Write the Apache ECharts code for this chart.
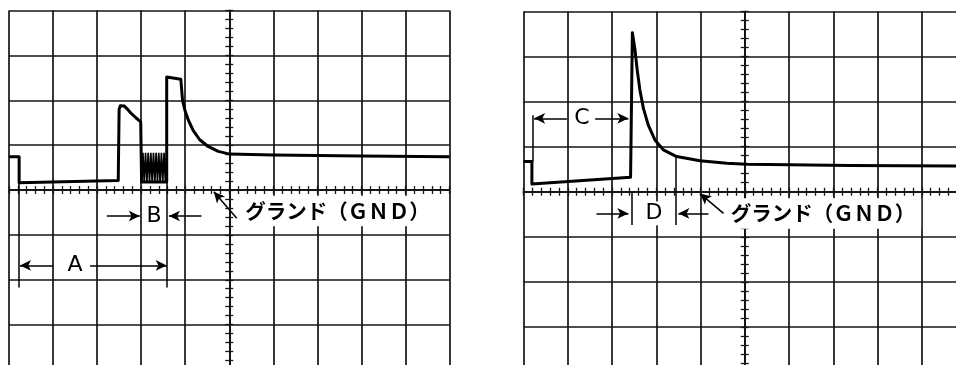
<!DOCTYPE html>
<html>
<head>
<meta charset="utf-8">
<script src="https://cdn.jsdelivr.net/npm/echarts@6/dist/echarts.min.js"></script>
<style>
  html, body { margin: 0; padding: 0; background: #fff; }
  #wrap { position: relative; width: 956px; height: 365px; overflow: hidden; }
  #left { position: absolute; left: 0; top: 0; width: 478px; height: 365px; }
  #right { position: absolute; left: 478px; top: 0; width: 478px; height: 365px; }
</style>
</head>
<body>
<div id="wrap">
  <div id="left"></div>
  <div id="right"></div>
</div>
<script>
// graticule in divisions: x centred on the middle line, y = 0 at GND
const xRange = [-5, 5]
const yRange = [-4, 4]

// left screen trace
const leftTrace = [
  [-5.00, 0.74], [-4.77, 0.74], [-4.77, 0.16], [-2.52, 0.21], [-2.50, 1.80],
  [-2.47, 1.88], [-2.43, 1.90], [-2.38, 1.87], [-2.30, 1.79], [-2.22, 1.70],
  [-2.12, 1.61], [-2.01, 1.52], [-1.99, 0.18], [-1.42, 0.18], [-1.42, 2.52],
  [-1.10, 2.47], [-1.06, 2.00], [-1.01, 1.79], [-0.93, 1.56], [-0.82, 1.33],
  [-0.67, 1.12], [-0.48, 0.97], [-0.25, 0.86], [0.01, 0.80], [1.00, 0.78],
  [3.00, 0.76], [5.00, 0.74]
]
// the ringing burst inside B
const leftBurst = [
  [-1.99, 0.18], [-1.96, 0.83], [-1.93, 0.18], [-1.90, 0.83], [-1.87, 0.18],
  [-1.84, 0.83], [-1.81, 0.18], [-1.78, 0.83], [-1.75, 0.18], [-1.72, 0.83],
  [-1.69, 0.18], [-1.66, 0.83], [-1.63, 0.18], [-1.60, 0.83], [-1.57, 0.18],
  [-1.54, 0.83], [-1.51, 0.18], [-1.48, 0.83], [-1.45, 0.18], [-1.43, 0.70]
]
// right screen trace
const rightTrace = [
  [-5.00, 0.67], [-4.81, 0.67], [-4.81, 0.17], [-2.58, 0.32], [-2.54, 3.53],
  [-2.48, 3.15], [-2.43, 2.70], [-2.37, 2.26], [-2.29, 1.85], [-2.18, 1.48],
  [-2.03, 1.15], [-1.84, 0.93], [-1.54, 0.78], [-1.01, 0.69], [-0.41, 0.63],
  [0.05, 0.61], [2.38, 0.58], [5.00, 0.57]
]

// annotations (from -> to, arrow head at "to")
const leftArrows = [
  [[-2.78, -0.58], [-2.03, -0.58]],
  [[-0.63, -0.58], [-1.37, -0.58]],
  [[-4.00, -1.68], [-4.75, -1.68]],
  [[-3.16, -1.68], [-1.42, -1.68]],
  [[0.17, -0.63], [-0.35, -0.04]]
]
const leftBars = [
  [[-4.77, 0.16], [-4.77, -2.17]],
  [[-1.41, 0.18], [-1.41, -2.17]]
]
const leftLabels = [['A', -3.50, -1.68], ['B', -1.71, -0.58]]
const leftGnd = [0.26, -0.47]

const rightArrows = [
  [[-4.02, 1.63], [-4.76, 1.63]],
  [[-3.38, 1.63], [-2.63, 1.63]],
  [[-3.35, -0.48], [-2.63, -0.48]],
  [[-0.82, -0.48], [-1.50, -0.48]],
  [[-0.48, -0.48], [-1.01, -0.04]]
]
const rightBars = [
  [[-4.80, 1.70], [-4.80, 0.67]],
  [[-2.55, 0.00], [-2.55, -0.74]],
  [[-1.55, 0.78], [-1.55, -0.74]]
]
const rightLabels = [['C', -3.68, 1.63], ['D', -2.05, -0.48]]
const rightGnd = [-0.42, -0.48]

const gndText = 'グランド（ＧＮＤ）'

const ink = '#151515'

const gridAxis = (range) => ({
  type: 'value', min: range[0], max: range[1], interval: 1,
  axisLine: { show: false, onZero: false },
  axisTick: { show: false },
  axisLabel: { show: false },
  splitLine: { show: true, lineStyle: { color: ink, width: 1.7 } }
})

const tickAxis = (range, position, inside) => ({
  type: 'value', min: range[0], max: range[1], interval: 1, position,
  axisLine: { show: true, onZero: true, onZeroAxisIndex: 0, lineStyle: { color: ink, width: 1.7 } },
  axisTick: { show: true, inside, length: 4, lineStyle: { color: ink, width: 1.3 } },
  minorTick: { show: true, splitNumber: 5, length: 4, lineStyle: { color: ink, width: 1.3 } },
  axisLabel: { show: false },
  splitLine: { show: false }
})

const buildOption = (grid, trace, burst, arrows, bars, labels, gnd) => {
  const lineData = []
  arrows.forEach(([a, b]) => {
    lineData.push([{ coord: a, symbol: 'none' }, { coord: b, symbol: 'arrow' }])
  })
  bars.forEach(([a, b]) => {
    lineData.push([{ coord: a, symbol: 'none' }, { coord: b, symbol: 'none' }])
  })

  const pointData = labels.map(([name, x, y]) => ({ name, coord: [x, y] }))
  pointData.push({
    name: gndText,
    coord: gnd,
    label: {
      position: 'right', distance: 0, fontSize: 20.5, fontWeight: 'bold',
      fontFamily: 'Noto Sans CJK JP', padding: [5, 6, 5, 4]
    }
  })

  const series = [
    {
      type: 'line',
      data: trace,
      symbol: 'none',
      z: 3,
      lineStyle: { color: '#000', width: 3, join: 'round' },
      markLine: {
        silent: true,
        z: 6,
        symbolSize: [8, 11],
        lineStyle: { color: '#000', width: 1.5, type: 'solid' },
        label: { show: false },
        emphasis: { disabled: true },
        data: lineData
      },
      markPoint: {
        silent: true,
        z: 5,
        symbol: 'rect',
        symbolSize: 1,
        itemStyle: { color: 'rgba(0,0,0,0)' },
        label: {
          show: true, position: 'inside', formatter: '{b}', color: '#000',
          fontSize: 22, fontFamily: 'DejaVu Sans, sans-serif',
          backgroundColor: '#fff', padding: [1, 3]
        },
        emphasis: { disabled: true },
        data: pointData
      }
    }
  ]
  if (burst) {
    series.push({
      type: 'line',
      data: burst,
      symbol: 'none',
      z: 3,
      lineStyle: { color: '#000', width: 1.7 }
    })
  }

  return {
    animation: false,
    backgroundColor: '#fff',
    grid: Object.assign({ outerBoundsMode: 'none', containLabel: false }, grid),
    xAxis: [
      gridAxis(xRange),
      tickAxis(xRange, 'bottom', false),
      tickAxis(xRange, 'bottom', true)
    ],
    yAxis: [
      gridAxis(yRange),
      tickAxis(yRange, 'left', false),
      tickAxis(yRange, 'left', true)
    ],
    series
  }
}

const leftChart = echarts.init(document.getElementById('left'))
leftChart.setOption(buildOption(
  { left: 9, right: 28.5, top: 10.5, bottom: -4.5 },
  leftTrace, leftBurst, leftArrows, leftBars, leftLabels, leftGnd
))

const rightChart = echarts.init(document.getElementById('right'))
rightChart.setOption(buildOption(
  { left: 45.5, right: -10, top: 11.5, bottom: -7 },
  rightTrace, null, rightArrows, rightBars, rightLabels, rightGnd
))
</script>
</body>
</html>
